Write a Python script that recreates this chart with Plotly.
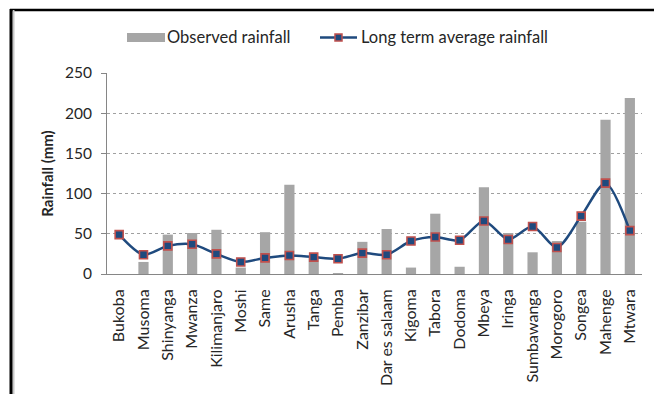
import plotly.graph_objects as go

stations = ["Bukoba", "Musoma", "Shinyanga", "Mwanza", "Kilimanjaro", "Moshi", "Same",
            "Arusha", "Tanga", "Pemba", "Zanzibar", "Dar es salaam", "Kigoma", "Tabora",
            "Dodoma", "Mbeya", "Iringa", "Sumbawanga", "Morogoro", "Songea", "Mahenge", "Mtwara"]
observed = [0, 15, 49, 51, 55, 8, 52, 111, 20, 1, 40, 56, 8, 75, 9, 108, 51, 27, 41, 65, 192, 219]
long_term = [49, 24, 35, 37, 25, 15, 20, 23, 21, 19, 26, 24, 41, 46, 42, 66, 43, 59, 33, 72, 113, 54]
y_ticks = [0, 50, 100, 150, 200, 250]

W, H = 654, 394
L, R, T, B = 107, 12, 73, 120
FONT = "Lato"
BAR_COLOR = "#a6a6a6"
LINE_COLOR = "#1f4a7e"
MARKER_EDGE = "#c0504d"
TEXT_COLOR = "#262626"

fig = go.Figure()
fig.add_trace(go.Bar(
    x=stations, y=observed, name="Observed rainfall",
    marker=dict(color=BAR_COLOR, line=dict(width=0)), width=0.42, showlegend=False,
))
fig.add_trace(go.Scatter(
    x=stations, y=long_term, name="Long term average rainfall", mode="lines+markers",
    line=dict(color=LINE_COLOR, width=2.5, shape="spline", smoothing=0.8),
    marker=dict(symbol="square", size=8, color=LINE_COLOR,
                line=dict(color=MARKER_EDGE, width=1.6)),
    showlegend=False,
))


def px_x(p):
    return (p - L) / (W - L - R)


def px_y(p):
    return (H - B - p) / (H - T - B)


shapes = [
    # chart frame: top and left edges with a soft shadow on the left
    dict(type="line", xref="paper", yref="paper", x0=px_x(10), x1=px_x(660),
         y0=px_y(10), y1=px_y(10), line=dict(color="black", width=2.5)),
    dict(type="line", xref="paper", yref="paper", x0=px_x(13.5), x1=px_x(13.5),
         y0=px_y(10), y1=px_y(400), line=dict(color="#c8c8c8", width=2)),
    dict(type="line", xref="paper", yref="paper", x0=px_x(11), x1=px_x(11),
         y0=px_y(9), y1=px_y(400), line=dict(color="black", width=3)),
    # legend keys
    dict(type="rect", xref="paper", yref="paper", x0=px_x(127), x1=px_x(165),
         y0=px_y(42), y1=px_y(33), fillcolor=BAR_COLOR, line=dict(width=0)),
    dict(type="line", xref="paper", yref="paper", x0=px_x(320), x1=px_x(357),
         y0=px_y(37.5), y1=px_y(37.5), line=dict(color=LINE_COLOR, width=2.5)),
    dict(type="rect", xref="paper", yref="paper", x0=px_x(335), x1=px_x(342),
         y0=px_y(41), y1=px_y(34), fillcolor=LINE_COLOR,
         line=dict(color=MARKER_EDGE, width=1.5)),
]

annotations = [
    dict(text="Observed rainfall", xref="paper", yref="paper", x=px_x(165), y=px_y(37.5),
         xanchor="left", yanchor="middle", showarrow=False,
         font=dict(family=FONT, size=16.5, color=TEXT_COLOR)),
    dict(text="Long term average rainfall", xref="paper", yref="paper", x=px_x(359),
         y=px_y(37.5), xanchor="left", yanchor="middle", showarrow=False,
         font=dict(family=FONT, size=16.5, color=TEXT_COLOR)),
]

fig.update_layout(
    width=W, height=H,
    margin=dict(l=L, r=R, t=T, b=B, pad=0),
    paper_bgcolor="white", plot_bgcolor="white",
    font=dict(family=FONT, size=16, color=TEXT_COLOR),
    bargap=0.58,
    shapes=shapes, annotations=annotations,
    xaxis=dict(
        type="category", tickangle=-90, showgrid=False, showline=True,
        linecolor="#868686", linewidth=1, ticks="", ticklabelstandoff=8,
        automargin=False,
        tickfont=dict(family=FONT, size=16, color=TEXT_COLOR),
        range=[-0.5, len(stations) - 0.5],
    ),
    yaxis=dict(
        range=[0, 250], tickvals=y_ticks, showgrid=True, gridcolor="#a0a0a0",
        griddash="dot", gridwidth=1, showline=True, linecolor="#868686", linewidth=1,
        ticks="outside", ticklen=5, tickcolor="#868686", zeroline=False,
        ticklabelstandoff=6, automargin=False,
        tickfont=dict(family=FONT, size=15.5, color=TEXT_COLOR),
        title=dict(text="<b>Rainfall (mm)</b>", standoff=7,
                   font=dict(family=FONT, size=15, color=TEXT_COLOR)),
    ),
)

fig.write_html("out.html")
